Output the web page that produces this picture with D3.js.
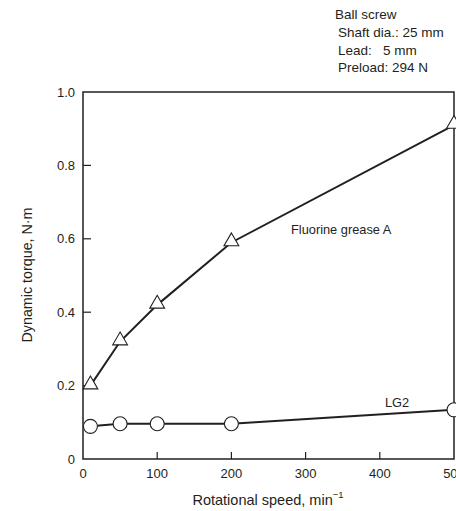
<!DOCTYPE html>
<html><head><meta charset="utf-8">
<script src="https://cdn.jsdelivr.net/npm/d3@7"></script>
<style>body{margin:0;background:#fff;} svg{display:block;} text{font-family:"Liberation Sans",Arial,sans-serif;fill:#231f20;}</style>
</head><body>
<svg id="c" width="456" height="511"></svg>
<script>
const speeds = [10, 50, 100, 200, 500];
const fluorineA = [0.20, 0.32, 0.42, 0.59, 0.91];
const lg2 = [0.089, 0.096, 0.096, 0.096, 0.134];
const xTicks = [0, 100, 200, 300, 400, 500];
const yTicks = [0, 0.2, 0.4, 0.6, 0.8, 1.0];
const yTickLabels = ["0", "0.2", "0.4", "0.6", "0.8", "1.0"];
const noteLines = ["Ball screw", "Shaft dia.: 25 mm", "Lead:   5 mm", "Preload: 294 N"];

const svg = d3.select("#c");
const L = 83, R = 454, T = 92, B = 459;
const x = d3.scaleLinear().domain([0, 500]).range([L, R]);
const y = d3.scaleLinear().domain([0, 1]).range([B, T]);

// frame
svg.append("rect").attr("x", L).attr("y", T).attr("width", R - L).attr("height", B - T)
  .attr("fill", "none").attr("stroke", "#231f20").attr("stroke-width", 1.5);

// x ticks (inward)
svg.selectAll(".xt").data(xTicks.filter(d => d > 0 && d < 500)).enter().append("line")
  .attr("x1", d => x(d)).attr("x2", d => x(d)).attr("y1", B).attr("y2", B - 7)
  .attr("stroke", "#231f20").attr("stroke-width", 1.2);
svg.selectAll(".xl").data(xTicks).enter().append("text")
  .attr("x", d => x(d)).attr("y", 478).attr("text-anchor", "middle")
  .attr("font-size", 13).text(d => d);

// y ticks (inward)
svg.selectAll(".yt").data(yTicks.filter(d => d > 0 && d < 1)).enter().append("line")
  .attr("x1", L).attr("x2", L + 8).attr("y1", d => y(d)).attr("y2", d => y(d))
  .attr("stroke", "#231f20").attr("stroke-width", 1.2);
svg.selectAll(".yl").data(yTicks).enter().append("text")
  .attr("x", 75).attr("y", d => y(d) + 4.5).attr("text-anchor", "end")
  .attr("font-size", 13).text((d, i) => yTickLabels[i]);

// axis titles
const xt = svg.append("text").attr("x", 268).attr("y", 505).attr("text-anchor", "middle").attr("font-size", 14.5);
xt.append("tspan").text("Rotational speed, min");
xt.append("tspan").attr("dy", -7).attr("font-size", 9.5).text("−1");
svg.append("text").attr("transform", "translate(32,275) rotate(-90)").attr("text-anchor", "middle")
  .attr("font-size", 14.3).text("Dynamic torque, N·m");

const line = d3.line().x(d => x(d[0])).y(d => y(d[1]));
const fa = speeds.map((s, i) => [s, fluorineA[i]]);
const lg = speeds.map((s, i) => [s, lg2[i]]);
svg.append("path").attr("d", line(fa)).attr("fill", "none").attr("stroke", "#231f20").attr("stroke-width", 2);
svg.append("path").attr("d", line(lg)).attr("fill", "none").attr("stroke", "#231f20").attr("stroke-width", 2);

const tri = d3.symbol().type(d3.symbolTriangle).size(95);
svg.selectAll(".tri").data(fa).enter().append("path")
  .attr("d", tri).attr("transform", d => `translate(${x(d[0])},${y(d[1]) - 1})`)
  .attr("fill", "#fff").attr("stroke", "#231f20").attr("stroke-width", 1.1);
svg.selectAll(".cir").data(lg).enter().append("circle")
  .attr("cx", d => x(d[0])).attr("cy", d => y(d[1])).attr("r", 7)
  .attr("fill", "#fff").attr("stroke", "#231f20").attr("stroke-width", 1.1);

// labels
svg.append("text").attr("x", 291).attr("y", 234).attr("font-size", 12.8).text("Fluorine grease A");
svg.append("text").attr("x", 385).attr("y", 407).attr("font-size", 12.8).text("LG2");

const noteX = [335, 338, 338, 338];
const noteY = [19, 37, 55, 72];
svg.selectAll(".note").data(noteLines).enter().append("text")
  .attr("x", (d, i) => noteX[i]).attr("y", (d, i) => noteY[i]).attr("font-size", 13.5)
  .attr("xml:space", "preserve").style("white-space", "pre").text(d => d);
</script>
</body></html>
